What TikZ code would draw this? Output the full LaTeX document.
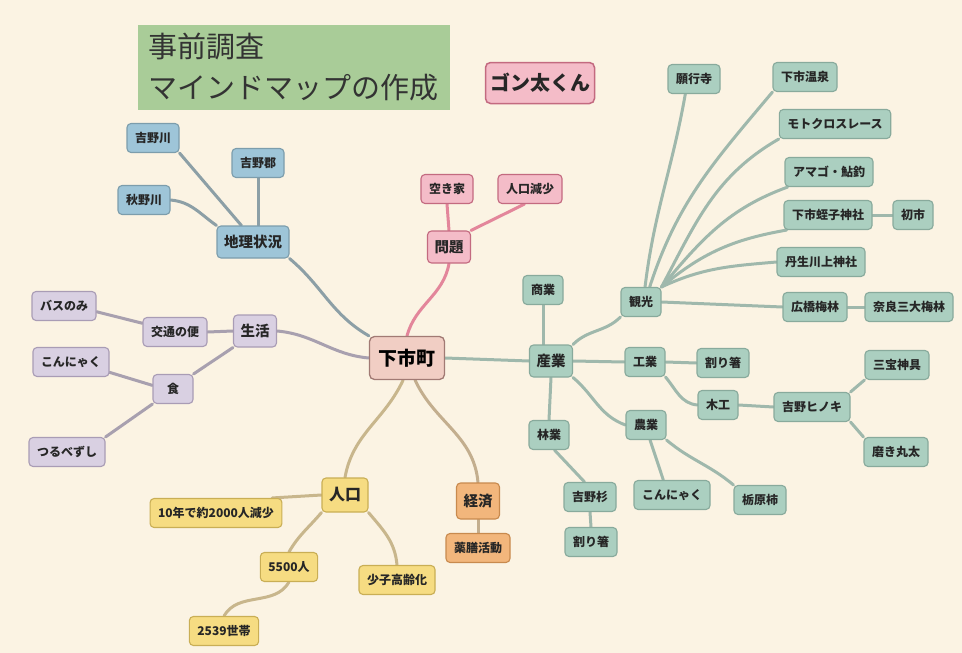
\documentclass[tikz,border=0pt]{standalone}
\usepackage{fontspec}
\setmainfont{Noto Sans CJK JP}
\usetikzlibrary{backgrounds}
\definecolor{bgc}{HTML}{FBF3E3}
\definecolor{titleF}{HTML}{A9CC98}
\definecolor{blF}{HTML}{9EC5D8}\definecolor{blD}{HTML}{7C9DAC}\definecolor{blE}{HTML}{8C9FA6}
\definecolor{puF}{HTML}{D9D0E2}\definecolor{puD}{HTML}{A99CB5}\definecolor{puE}{HTML}{A8A0AF}
\definecolor{pkF}{HTML}{F4BCC8}\definecolor{pkD}{HTML}{C36A80}\definecolor{pkE}{HTML}{E3869B}
\definecolor{tlF}{HTML}{ABCFC0}\definecolor{tlD}{HTML}{88AA9C}\definecolor{tlE}{HTML}{9FB8AC}
\definecolor{yeF}{HTML}{F6DC82}\definecolor{yeD}{HTML}{C9AE55}\definecolor{yeE}{HTML}{C8B68C}
\definecolor{orF}{HTML}{F2B67C}\definecolor{orD}{HTML}{C88A4E}\definecolor{orE}{HTML}{C3AE8E}
\definecolor{mF}{HTML}{F1CEC4}\definecolor{mD}{HTML}{A17A74}
\tikzset{
 nd/.style={draw, rounded corners=4pt, line width=1.1pt, font=\bfseries\fontsize{12}{14}\selectfont, inner xsep=8pt, inner ysep=0pt, minimum height=29pt, text=black!85},
 lvone/.style={font=\bfseries\fontsize{14.5}{16}\selectfont, minimum height=32pt, inner xsep=7pt},
 bl/.style={nd, fill=blF, draw=blD},
 pu/.style={nd, fill=puF, draw=puD},
 pk/.style={nd, fill=pkF, draw=pkD},
 tl/.style={nd, fill=tlF, draw=tlD},
 ye/.style={nd, fill=yeF, draw=yeD},
 orr/.style={nd, fill=orF, draw=orD},
 cn/.style={line width=3pt, line cap=round},
}
\begin{document}
\begin{tikzpicture}[x=1pt,y=-1pt]
\useasboundingbox (0,0) rectangle (962,653);
% title
\node[fill=titleF, minimum width=312pt, minimum height=85pt, text width=292pt, align=left, inner sep=0pt, font=\fontsize{29}{41}\selectfont, text=black!80] (title) at (294,67.5) {事前調査\\マインドマップの作成};
\node[draw=pkD, fill=pkF, line width=1.5pt, rounded corners=5pt, minimum width=109pt, minimum height=41pt, font=\bfseries\fontsize{20}{22}\selectfont, text=black!85] (gon) at (540,83) {ゴン太くん};
% center
\node[draw=mD, fill=mF, line width=1.3pt, rounded corners=5pt, minimum width=75pt, minimum height=43pt, font=\bfseries\fontsize{19}{21}\selectfont] (machi) at (407,358) {下市町};
% blue
\node[bl] (yoshinogawa) at (153,138) {吉野川};
\node[bl] (yoshinogun) at (258,163) {吉野郡};
\node[bl] (akinogawa) at (144,200) {秋野川};
\node[bl,lvone] (chiri) at (253,242) {地理状況};
% purple
\node[pu] (bus) at (64,306) {バスのみ};
\node[pu] (kotsu) at (175,332) {交通の便};
\node[pu,lvone] (seikatsu) at (255,331) {生活};
\node[pu] (konpu) at (71,362) {こんにゃく};
\node[pu, minimum width=40pt] (shoku) at (173,389) {食};
\node[pu] (tsurube) at (67,452) {つるべずし};
% pink
\node[pk] (akiya) at (447,189) {空き家};
\node[pk] (genshou) at (530,189) {人口減少};
\node[pk,lvone] (mondai) at (449,247) {問題};
% teal
\node[tl] (gangyo) at (694,79) {願行寺};
\node[tl] (onsen) at (805,77) {下市温泉};
\node[tl] (moto) at (835,124) {モトクロスレース};
\node[tl] (amago) at (829,172) {アマゴ・鮎釣};
\node[tl] (ebisu) at (828,215) {下市蛭子神社};
\node[tl] (hatsuichi) at (913,215) {初市};
\node[tl] (nyu) at (821,262) {丹生川上神社};
\node[tl] (hirohashi) at (815,307) {広橋梅林};
\node[tl] (nara) at (909,307) {奈良三大梅林};
\node[tl] (kanko) at (641,302) {観光};
\node[tl] (shogyo) at (543,290) {商業};
\node[tl,lvone] (sangyo) at (551,361) {産業};
\node[tl] (kogyo) at (645,362) {工業};
\node[tl] (waribashi) at (723,363) {割り箸};
\node[tl] (mokko) at (718,405) {木工};
\node[tl] (hinoki) at (812,407) {吉野ヒノキ};
\node[tl] (sanpo) at (897,365) {三宝神具};
\node[tl] (migaki) at (896,452) {磨き丸太};
\node[tl] (nogyo) at (646,425) {農業};
\node[tl] (ringyo) at (549,435) {林業};
\node[tl] (sugi) at (590,497) {吉野杉};
\node[tl] (waribashitwo) at (591,542) {割り箸};
\node[tl] (konnyaku) at (672,495) {こんにゃく};
\node[tl] (tochi) at (760,500) {栃原柿};
% yellow
\node[ye,lvone,font=\bfseries\fontsize{16}{18}\selectfont, minimum height=34pt] (jinko) at (345,495) {人口};
\node[ye] (gen) at (216,513) {10年で約2000人減少};
\node[ye] (pfive) at (289,567) {5500人};
\node[ye] (setai) at (224,631) {2539世帯};
\node[ye] (shoshi) at (397,580) {少子高齢化};
% orange
\node[orr,lvone, minimum height=36pt] (keizai) at (478,501) {経済};
\node[orr] (yakuzen) at (478,548) {薬膳活動};

\begin{scope}[on background layer]
\fill[bgc] (0,0) rectangle (962,653);
% blue
\draw[cn, blE] (machi.north west) to[out=150,in=-40] (chiri.south east);
\draw[cn, blE] (chiri.125) -- (yoshinogawa.south east);
\draw[cn, blE] (yoshinogun.south) -- (yoshinogun.south |- chiri.north);
\draw[cn, blE] (akinogawa.east) to[out=-5,in=145] (chiri.north west);
% purple
\draw[cn, puE] (machi.west) to[out=175,in=-5] (seikatsu.east);
\draw[cn, puE] (seikatsu.west) -- (kotsu.east);
\draw[cn, puE] (seikatsu.south west) -- (shoku.north east);
\draw[cn, puE] (kotsu.165) -- (bus.-10);
\draw[cn, puE] (shoku.170) -- (konpu.-15);
\draw[cn, puE] (shoku.south west) -- (tsurube.north east);
% pink
\draw[cn, pkE] (machi.north) to[out=75,in=-100] (mondai.south);
\draw[cn, pkE] (mondai.north) -- (akiya.south);
\draw[cn, pkE] (mondai.north east) -- (genshou.-110);
% teal
\draw[cn, tlE] (machi.east) -- (sangyo.west);
\draw[cn, tlE] (shogyo.south) -- (shogyo.south |- sangyo.north);
\draw[cn, tlE] (sangyo.north east) to[out=45,in=-135] (kanko.south west);
\draw[cn, tlE] (sangyo.east) -- (kogyo.west);
\draw[cn, tlE] (sangyo.south east) to[out=-40,in=160] (nogyo.west);
\draw[cn, tlE] (sangyo.south) -- (ringyo.north);
\draw[cn, tlE] (kanko.75) to[out=83,in=-100] (gangyo.240);
\draw[cn, tlE] (kanko.60) to[out=72,in=-130] (onsen.south west);
\draw[cn, tlE] (kanko.north east) to[out=62,in=-150] (moto.south west);
\draw[cn, tlE] (kanko.north east) to[out=50,in=-160] (amago.200);
\draw[cn, tlE] (kanko.north east) to[out=40,in=-170] (ebisu.200);
\draw[cn, tlE] (kanko.north east) to[out=25,in=-175] (nyu.west);
\draw[cn, tlE] (kanko.east) -- (hirohashi.west);
\draw[cn, tlE] (hirohashi.east) -- (nara.west);
\draw[cn, tlE] (ebisu.east) -- (hatsuichi.west);
\draw[cn, tlE] (kogyo.east) -- (waribashi.west);
\draw[cn, tlE] (kogyo.south east) to[out=-50,in=175] (mokko.west);
\draw[cn, tlE] (mokko.east) -- (hinoki.west);
\draw[cn, tlE] (hinoki.north east) -- (sanpo.south west);
\draw[cn, tlE] (hinoki.south east) -- (migaki.north west);
\draw[cn, tlE] (nogyo.-75) -- (konnyaku.120);
\draw[cn, tlE] (nogyo.south east) to[out=-40,in=140] (tochi.north west);
\draw[cn, tlE] (ringyo.-70) -- (sugi.110);
\draw[cn, tlE] (sugi.south) -- (waribashitwo.north);
% yellow
\draw[cn, yeE] (machi.-100) to[out=-115,in=80] (jinko.north);
\draw[cn, yeE] (jinko.west) -- (gen.15);
\draw[cn, yeE] (jinko.south west) to[out=-130,in=60] (pfive.north);
\draw[cn, yeE] (jinko.south east) to[out=-50,in=95] (shoshi.north);
\draw[cn, yeE] (pfive.south) to[out=-120,in=60] (setai.north);
% orange
\draw[cn, orE] (machi.-70) to[out=-65,in=95] (keizai.north);
\draw[cn, orE] (keizai.south) -- (yakuzen.north);
\end{scope}
\end{tikzpicture}
\end{document}
